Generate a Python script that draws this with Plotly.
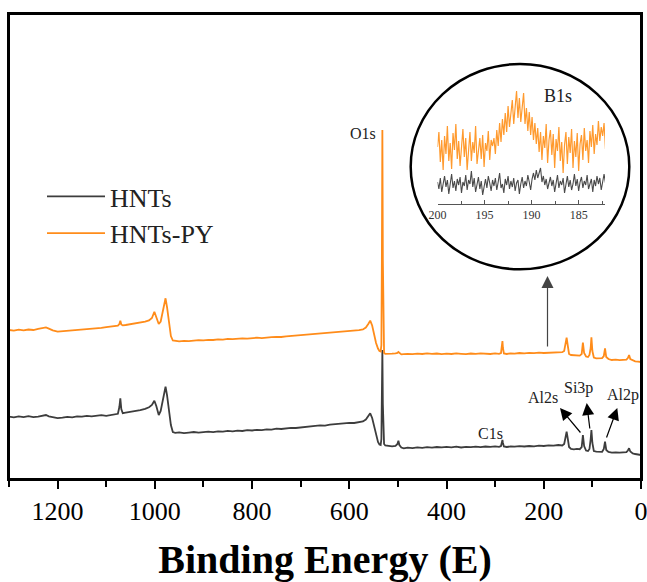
import plotly.graph_objects as go

# ---------------- survey spectrum (binding energy in eV, intensity a.u.) ----------------
energy = [
    1300, 1290, 1280, 1270, 1260, 1250, 1240, 1230, 1224, 1218,
    1210, 1200, 1190, 1180, 1170, 1160, 1150, 1140, 1130, 1120,
    1110, 1100, 1090, 1082, 1076, 1073, 1071, 1069, 1066, 1060,
    1050, 1040, 1030, 1020, 1012, 1006, 1001, 997, 992, 988,
    984, 980, 978, 975, 971, 967, 963, 958, 950, 940,
    930, 920, 910, 900, 890, 880, 870, 860, 850, 840,
    830, 820, 810, 800, 790, 780, 770, 760, 750, 740,
    730, 720, 710, 700, 690, 680, 670, 660, 650, 640,
    630, 620, 610, 600, 590, 580, 572, 566, 561, 557,
    553, 549, 545, 541, 538, 535.5, 534, 533, 532, 531,
    530, 528.5, 526, 520, 512, 505, 501, 499, 497, 493,
    488, 480, 470, 460, 450, 440, 430, 420, 410, 400,
    390, 380, 370, 360, 350, 340, 330, 320, 310, 300,
    292, 288, 286, 285, 284, 282, 276, 268, 260, 250,
    240, 230, 220, 210, 200, 190, 180, 170, 162, 158,
    155.5, 153, 150.5, 148, 144, 138, 132, 126, 122, 119.5,
    117, 113, 109, 106, 103.5, 102, 100, 97, 92, 86,
    80, 76.5, 74, 71.5, 67, 60, 52, 44, 36, 30,
    27, 24.5, 22, 17, 12, 6, 0,
]

hnts = [
    62.3, 61.6, 62.6, 61.8, 62.9, 61.9, 62.4, 63.2, 64.0, 62.6,
    61.5, 60.8, 61.3, 62.2, 61.7, 62.6, 62.3, 63.1, 62.6, 63.4,
    63.9, 63.2, 64.3, 64.8, 65.2, 72.0, 80.7, 70.0, 65.8, 66.3,
    67.0, 67.6, 68.9, 70.1, 71.8, 74.0, 78.3, 73.0, 64.0, 68.0,
    78.0, 90.0, 92.3, 84.0, 68.0, 54.0, 47.0, 46.2, 46.7, 45.9,
    46.4, 47.0, 46.3, 46.9, 47.4, 46.8, 47.6, 47.3, 48.1, 47.7,
    48.4, 48.0, 48.8, 48.5, 49.2, 48.9, 49.7, 49.4, 50.3, 50.0,
    50.8, 51.2, 51.0, 51.7, 52.3, 52.6, 53.2, 53.6, 53.4, 54.3,
    54.8, 55.2, 55.7, 56.1, 56.0, 56.8, 57.5, 59.5, 63.5, 65.7,
    61.0, 52.0, 43.0, 37.0, 34.5, 34.0, 40.0, 75.0, 129.0, 75.0,
    38.0, 35.0, 33.5, 33.0, 32.6, 33.1, 35.0, 38.3, 34.0, 31.5,
    30.7, 31.4, 30.9, 31.6, 31.2, 31.8, 31.3, 32.0, 31.6, 32.2,
    31.7, 32.3, 31.5, 32.1, 31.8, 32.4, 31.9, 32.5, 32.1, 32.6,
    32.2, 33.0, 37.0, 39.0, 36.0, 32.5, 32.0, 32.6, 32.3, 32.9,
    32.5, 33.0, 32.7, 33.3, 33.0, 33.6, 33.3, 34.0, 33.5, 35.0,
    41.0, 47.3, 40.0, 32.0, 30.0, 29.7, 30.2, 29.8, 32.0, 44.0,
    33.0, 28.5, 28.0, 30.0, 40.0, 49.0, 36.0, 28.0, 27.3, 27.6,
    27.2, 30.0, 37.3, 29.0, 27.0, 26.3, 26.7, 26.3, 26.8, 26.9,
    28.5, 30.7, 27.5, 25.6, 25.0, 24.3, 24.0,
]

hnts_py = [
    149.0, 148.4, 149.3, 148.6, 149.5, 149.0, 150.2, 151.0, 151.6, 150.4,
    148.6, 147.4, 147.8, 148.3, 148.9, 148.6, 149.5, 149.9, 150.2, 150.8,
    151.1, 151.9, 152.2, 152.9, 153.3, 155.0, 158.3, 154.6, 153.6, 154.0,
    154.8, 155.5, 156.4, 157.3, 158.6, 161.0, 167.3, 161.0, 155.0, 157.5,
    168.0, 178.0, 180.7, 172.0, 155.0, 143.0, 138.5, 138.0, 137.6, 138.2,
    137.8, 138.4, 138.9, 138.6, 139.2, 139.0, 139.6, 139.4, 140.1, 139.8,
    140.3, 140.6, 140.4, 141.0, 141.3, 140.9, 141.6, 141.9, 142.2, 142.0,
    142.7, 143.1, 143.4, 143.6, 144.2, 144.5, 145.0, 145.4, 145.9, 146.2,
    146.8, 147.0, 147.6, 148.0, 148.3, 148.9, 149.5, 151.5, 155.0, 158.3,
    153.5, 144.0, 136.0, 130.5, 128.0, 127.5, 134.0, 220.0, 349.0, 220.0,
    130.0, 126.0, 125.2, 125.0, 125.3, 125.6, 126.0, 127.0, 126.0, 124.6,
    124.8, 125.2, 124.9, 125.4, 125.0, 125.6, 125.1, 125.5, 124.8, 125.3,
    125.0, 125.6, 125.2, 124.9, 125.5, 125.1, 125.7, 125.3, 125.0, 125.6,
    125.2, 126.0, 132.0, 138.0, 131.0, 125.5, 125.0, 125.7, 125.3, 126.0,
    125.6, 126.2, 125.8, 126.4, 126.0, 126.3, 126.6, 126.3, 126.8, 128.0,
    134.0, 141.3, 133.0, 125.0, 124.0, 123.6, 123.9, 123.4, 125.0, 136.3,
    126.0, 122.5, 122.0, 124.0, 131.0, 141.7, 128.0, 121.5, 120.7, 120.5,
    120.9, 123.0, 130.7, 122.0, 120.0, 119.0, 119.3, 118.8, 119.2, 119.4,
    121.0, 124.0, 120.0, 118.4, 117.6, 117.4, 117.0,
]

# ---------------- B1s high-resolution inset ----------------
b1s_start, b1s_step, b1s_n = 200.0, 0.15, 120
b1s_energy = [round(b1s_start - b1s_step * i, 2) for i in range(b1s_n)]

b1s_py = [
    57, 72, 42, 64, 34, 68, 50, 78, 43, 61, 35, 71, 54, 80, 45, 63, 38, 60, 75, 47,
    66, 34, 58, 72, 43, 62, 51, 78, 40, 57, 66, 45, 69, 37, 61, 53, 73, 44, 64, 58,
    66, 50, 74, 58, 81, 62, 85, 69, 91, 72, 98, 77, 89, 104, 80, 99, 113, 86, 106, 82,
    100, 111, 80, 96, 73, 92, 69, 87, 64, 81, 60, 76, 52, 72, 44, 68, 56, 80, 41, 64,
    74, 49, 70, 36, 65, 53, 77, 43, 62, 31, 59, 72, 40, 67, 51, 75, 36, 63, 47, 71,
    33, 60, 69, 44, 76, 53, 64, 41, 73, 57, 79, 50, 70, 59, 83, 63, 77, 68, 81, 55,
]
b1s_hnts = [
    22, 15, 26, 12, 20, 28, 17, 24, 10, 21, 30, 16, 23, 13, 25, 19, 27, 11, 22, 18,
    29, 14, 24, 20, 33, 17, 26, 12, 21, 27, 15, 23, 9, 19, 25, 16, 28, 21, 13, 24,
    18, 26, 14, 22, 31, 16, 20, 11, 25, 19, 28, 15, 23, 17, 26, 13, 21, 24, 10, 20,
    27, 16, 23, 18, 29, 22, 14, 25, 31, 24, 34, 26, 30, 36, 22, 28, 19, 25, 15, 23,
    27, 18, 24, 12, 21, 29, 16, 23, 19, 26, 11, 22, 28, 17, 24, 14, 20, 30, 18, 25,
    13, 22, 27, 16, 23, 19, 29, 15, 21, 25, 12, 24, 18, 28, 20, 26, 14, 23, 30, 21,
]

series_names = ["HNTs", "HNTs-PY"]
peak_labels = ["O1s", "C1s", "Al2s", "Si3p", "Al2p"]
axis_title = "Binding Energy (E)"
inset_label = "B1s"

# ---------------- layout geometry (pixels) ----------------
W, H = 647, 582
PLOT_L, PLOT_R, PLOT_T, PLOT_B = 9, 641, 14, 479
ML, MR, MT, MB = PLOT_L, W - PLOT_R, PLOT_T, H - PLOT_B
PW, PH = PLOT_R - PLOT_L, PLOT_B - PLOT_T
X_RANGE = [1300, 0]
Y_RANGE = [0, PH]


def px_x(px):
    """pixel x -> paper"""
    return (px - PLOT_L) / PW


def px_y(py):
    """pixel y -> paper"""
    return (PLOT_B - py) / PH


def ex(px):
    """pixel x -> binding energy"""
    return X_RANGE[0] + (px - PLOT_L) / PW * (X_RANGE[1] - X_RANGE[0])


def iy(py):
    """pixel y -> intensity"""
    return (PLOT_B - py) / PH * (Y_RANGE[1] - Y_RANGE[0])


FONT = "Liberation Serif, Times New Roman, serif"
GRAY = "#3d3d3d"
ORANGE = "#ff8c1a"

fig = go.Figure()
fig.add_trace(go.Scatter(x=energy, y=hnts, mode="lines", name=series_names[0],
                         line=dict(color=GRAY, width=1.8)))
fig.add_trace(go.Scatter(x=energy, y=hnts_py, mode="lines", name=series_names[1],
                         line=dict(color=ORANGE, width=1.8)))
fig.add_trace(go.Scatter(x=b1s_energy, y=b1s_hnts, mode="lines", xaxis="x2", yaxis="y2",
                         showlegend=False, line=dict(color="#4a4a4a", width=1.1)))
fig.add_trace(go.Scatter(x=b1s_energy, y=b1s_py, mode="lines", xaxis="x2", yaxis="y2",
                         showlegend=False, line=dict(color="#ff9a2e", width=1.2)))

# inset geometry (pixels)
IN_X0, IN_X1 = 437.5, 605
IN_YB, IN_YT = 204, 79

fig.update_layout(
    width=W, height=H,
    margin=dict(l=ML, r=MR, t=MT, b=MB, pad=0, autoexpand=False),
    paper_bgcolor="white", plot_bgcolor="white",
    font=dict(family=FONT, color="black"),
    xaxis=dict(
        range=X_RANGE, showline=True, mirror=True, linecolor="black", linewidth=2,
        ticks="outside", ticklen=8, tickwidth=1.5, tickcolor="black",
        tick0=0, dtick=200, automargin=False, ticklabeloverflow="allow",
        minor=dict(dtick=100, ticks="outside", ticklen=6, tickwidth=1.5, tickcolor="black"),
        tickfont=dict(size=26, family=FONT, color="black"),
        showgrid=False, zeroline=False,
        title=dict(text="<b>" + axis_title + "</b>", font=dict(size=40, family=FONT, color="black"),
                   standoff=24),
    ),
    yaxis=dict(
        range=Y_RANGE, showline=True, mirror=True, linecolor="black", linewidth=2,
        showticklabels=False, ticks="", showgrid=False, zeroline=False, automargin=False,
    ),
    xaxis2=dict(
        domain=[px_x(IN_X0), px_x(IN_X1)], anchor="y2",
        range=[200, 182.2], showline=True, linecolor="#555555", linewidth=1,
        ticks="inside", ticklen=4, tickwidth=1, tickcolor="#555555",
        tick0=200, dtick=5, automargin=False,
        minor=dict(dtick=2.5, ticks="inside", ticklen=3, tickwidth=1, tickcolor="#555555"),
        tickfont=dict(size=12, family=FONT, color="#333333"),
        showgrid=False, zeroline=False,
    ),
    yaxis2=dict(
        domain=[px_y(IN_YB), px_y(IN_YT)], anchor="x2",
        range=[0, IN_YB - IN_YT], visible=False,
    ),
    legend=dict(
        x=px_x(42), y=px_y(173), xanchor="left", yanchor="top",
        font=dict(size=26, family=FONT, color="#222222"),
        bgcolor="rgba(0,0,0,0)", borderwidth=0, itemwidth=58,
        tracegroupgap=0,
    ),
    showlegend=True,
)

# plot frame (ensures all four sides are drawn)
fig.add_shape(type="rect", xref="paper", yref="paper", x0=0, x1=1, y0=0, y1=1,
              line=dict(color="black", width=2), fillcolor="rgba(0,0,0,0)", layer="above")

# inset circle
fig.add_shape(type="circle", xref="paper", yref="paper",
              x0=px_x(410.7), x1=px_x(629.3), y0=px_y(269.3), y1=px_y(64),
              line=dict(color="black", width=2.5), fillcolor="rgba(0,0,0,0)")

# peak labels (pixel centres)
label_pos = {
    "O1s": (363, 133),
    "C1s": (490, 433),
    "Al2s": (543, 397),
    "Si3p": (578, 388),
    "Al2p": (623, 395),
}
for lab in peak_labels:
    px, py = label_pos[lab]
    fig.add_annotation(x=ex(px), y=iy(py), xref="x", yref="y", text=lab, showarrow=False,
                       font=dict(size=16, family=FONT, color="#222222"))

# arrows (head px, tail px)
arrows = [
    ((560, 408), (581.7, 434), "black"),
    ((586.7, 403), (590, 430), "black"),
    ((617.3, 408), (606, 439), "black"),
    ((547.5, 276), (547.5, 348), "#444444"),
]
for (hx, hy), (tx, ty), col in arrows:
    fig.add_annotation(x=ex(hx), y=iy(hy), ax=ex(tx), ay=iy(ty), xref="x", yref="y",
                       axref="x", ayref="y", text="", showarrow=True,
                       arrowhead=2, arrowsize=2.0, arrowwidth=1.2, arrowcolor=col)

# inset label
fig.add_annotation(x=187.2, y=IN_YB - 96, xref="x2", yref="y2", text=inset_label, showarrow=False,
                   font=dict(size=18, family=FONT, color="#222222"))

# remove the browser's default 8 px body margin so the figure sits at the page origin
fig.write_html("out.html", config={"displayModeBar": False},
               post_script="document.body.style.margin='0';document.body.style.overflow='hidden';")
